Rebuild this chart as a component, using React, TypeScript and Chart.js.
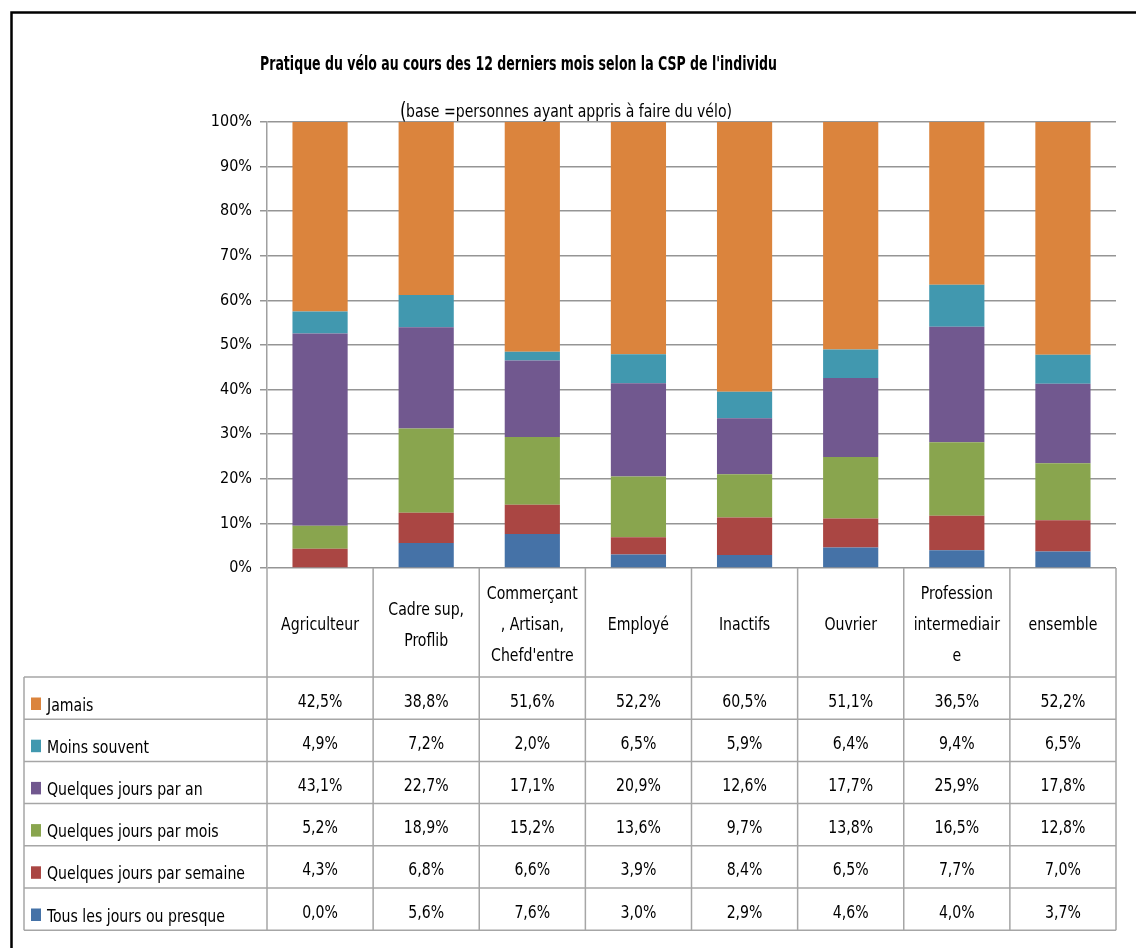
import React, { useEffect, useRef } from 'react';
import { Chart, registerables } from 'chart.js';

Chart.register(...registerables);

// ---------- data ----------
const categoryLines: string[][] = [
  ['Agriculteur'],
  ['Cadre sup,', 'Proflib'],
  ['Commerçant', ', Artisan,', "Chefd'entre"],
  ['Employé'],
  ['Inactifs'],
  ['Ouvrier'],
  ['Profession', 'intermediair', 'e'],
  ['ensemble'],
];
const categories = categoryLines.map((l) => l.join(' '));

const seriesNames = [
  'Tous les jours ou presque',
  'Quelques jours par semaine',
  'Quelques jours par mois',
  'Quelques jours par an',
  'Moins souvent',
  'Jamais',
];
const tousLesJours = [0.0, 5.6, 7.6, 3.0, 2.9, 4.6, 4.0, 3.7];
const parSemaine = [4.3, 6.8, 6.6, 3.9, 8.4, 6.5, 7.7, 7.0];
const parMois = [5.2, 18.9, 15.2, 13.6, 9.7, 13.8, 16.5, 12.8];
const parAn = [43.1, 22.7, 17.1, 20.9, 12.6, 17.7, 25.9, 17.8];
const moinsSouvent = [4.9, 7.2, 2.0, 6.5, 5.9, 6.4, 9.4, 6.5];
const jamais = [42.5, 38.8, 51.6, 52.2, 60.5, 51.1, 36.5, 52.2];
const seriesValues = [tousLesJours, parSemaine, parMois, parAn, moinsSouvent, jamais];

const TITLE = "Pratique du vélo au cours des 12 derniers mois selon la CSP de l'individu";
const SUBTITLE = 'base =personnes ayant appris à faire du vélo)';

// ---------- styles ----------
const seriesColors = ['#4572A7', '#AA4643', '#89A54E', '#71588F', '#4198AF', '#DB843D'];
const FONT = "'Liberation Sans Narrow', 'DejaVu Sans Condensed', 'DejaVu Sans', sans-serif";

const fmt = (v: number) => v.toFixed(1).replace('.', ',') + '%';

function measure(ctx: CanvasRenderingContext2D, font: string, text: string) {
  ctx.save();
  ctx.font = font;
  const w = ctx.measureText(text).width;
  ctx.restore();
  return w;
}

function txt(
  ctx: CanvasRenderingContext2D,
  s: string,
  x: number,
  y: number,
  align: CanvasTextAlign,
  sx: number,
  font: string
) {
  ctx.save();
  ctx.font = font;
  ctx.translate(x, y);
  ctx.scale(sx, 1);
  ctx.textAlign = align;
  ctx.textBaseline = 'alphabetic';
  ctx.fillText(s, 0, 0);
  ctx.restore();
}

const excelPlugin = {
  id: 'excelDecor',
  afterDraw(chart: any) {
    const ctx: CanvasRenderingContext2D = chart.ctx;
    const a = chart.chartArea;
    const xs = chart.scales.x;
    const n = categories.length;
    const colW = (a.right - a.left) / n;
    const edges: number[] = [];
    for (let i = 0; i < n; i++) edges.push(xs.getPixelForValue(i) - colW / 2);
    edges.push(xs.getPixelForValue(n - 1) + colW / 2);

    const headerTop = a.bottom;
    const headerBottom = 677;
    const rowH = 42.2;
    const tableLeft = 24;
    const rows = seriesNames.length;
    const tableBottom = headerBottom + rowH * rows;

    ctx.save();
    // outer frame
    ctx.strokeStyle = '#000';
    ctx.lineWidth = 2.5;
    ctx.beginPath();
    ctx.moveTo(11.5, chart.height);
    ctx.lineTo(11.5, 12.5);
    ctx.lineTo(chart.width, 12.5);
    ctx.stroke();

    ctx.fillStyle = '#000';
    // title
    const titleFont = `bold 20px ${FONT}`;
    txt(ctx, TITLE, 260, 70, 'left', 517 / measure(ctx, titleFont, TITLE), titleFont);
    // subtitle
    const parenFont = `23px ${FONT}`;
    txt(ctx, '(', 400, 119, 'left', 0.8, parenFont);
    const subFont = `17px ${FONT}`;
    txt(ctx, SUBTITLE, 406, 117, 'left', 326 / measure(ctx, subFont, SUBTITLE), subFont);

    // table grid
    ctx.strokeStyle = '#a6a6a6';
    ctx.lineWidth = 1.5;
    ctx.beginPath();
    edges.forEach((x) => {
      ctx.moveTo(x, headerTop);
      ctx.lineTo(x, tableBottom);
    });
    ctx.moveTo(tableLeft, headerBottom);
    ctx.lineTo(tableLeft, tableBottom);
    for (let r = 0; r <= rows; r++) {
      const y = headerBottom + r * rowH;
      ctx.moveTo(tableLeft, y);
      ctx.lineTo(edges[n], y);
    }
    ctx.stroke();

    const tFont = `17px ${FONT}`;
    const sx = 198 / measure(ctx, tFont, 'Quelques jours par semaine');

    // header labels
    const lineH = 31;
    categoryLines.forEach((lines, i) => {
      const cx = (edges[i] + edges[i + 1]) / 2;
      lines.forEach((l, j) => {
        const y = 630 + (j - (lines.length - 1) / 2) * lineH;
        txt(ctx, l, cx, y, 'center', sx, tFont);
      });
    });

    // rows (top row = last series)
    for (let r = 0; r < rows; r++) {
      const si = rows - 1 - r;
      const top = headerBottom + r * rowH;
      ctx.fillStyle = seriesColors[si];
      ctx.fillRect(31, top + 20.5, 10, 12.5);
      ctx.fillStyle = '#000';
      txt(ctx, seriesNames[si], 47, top + 33.5, 'left', sx, tFont);
      seriesValues[si].forEach((v, i) => {
        const cx = (edges[i] + edges[i + 1]) / 2;
        txt(ctx, fmt(v), cx, top + 29.5, 'center', sx, tFont);
      });
    }
    ctx.restore();
  },
};

export default function App() {
  const ref = useRef<HTMLCanvasElement | null>(null);
  useEffect(() => {
    if (!ref.current) return;
    const chart = new Chart(ref.current, {
      type: 'bar',
      data: {
        labels: categories,
        datasets: seriesNames.map((name, i) => ({
          label: name,
          data: seriesValues[i],
          backgroundColor: seriesColors[i],
          borderWidth: 0,
          barPercentage: 0.52,
          categoryPercentage: 1,
        })),
      },
      options: {
        responsive: false,
        animation: false,
        devicePixelRatio: 1,
        layout: { padding: { top: 122, right: 20, bottom: 380, left: 0 } },
        plugins: { legend: { display: false }, tooltip: { enabled: false }, title: { display: false } },
        scales: {
          x: { stacked: true, display: false, offset: true },
          y: {
            stacked: true,
            min: 0,
            max: 100,
            ticks: {
              stepSize: 10,
              callback: (v: any) => v + '%',
              font: { family: FONT, size: 16 },
              color: '#000',
              padding: 8,
            },
            grid: { color: '#959595', lineWidth: 1.5, tickLength: 7 },
            border: { color: '#a0a0a0', width: 1.5 },
            afterFit: (s: any) => {
              s.width = 267;
            },
          },
        },
      },
      plugins: [excelPlugin],
    });
    return () => chart.destroy();
  }, []);
  return (
    <div style={{ position: 'absolute', left: 0, top: 0, width: 1136, height: 948, background: '#fff' }}>
      <canvas ref={ref} width={1136} height={948} style={{ width: 1136, height: 948, display: 'block' }} />
    </div>
  );
}
